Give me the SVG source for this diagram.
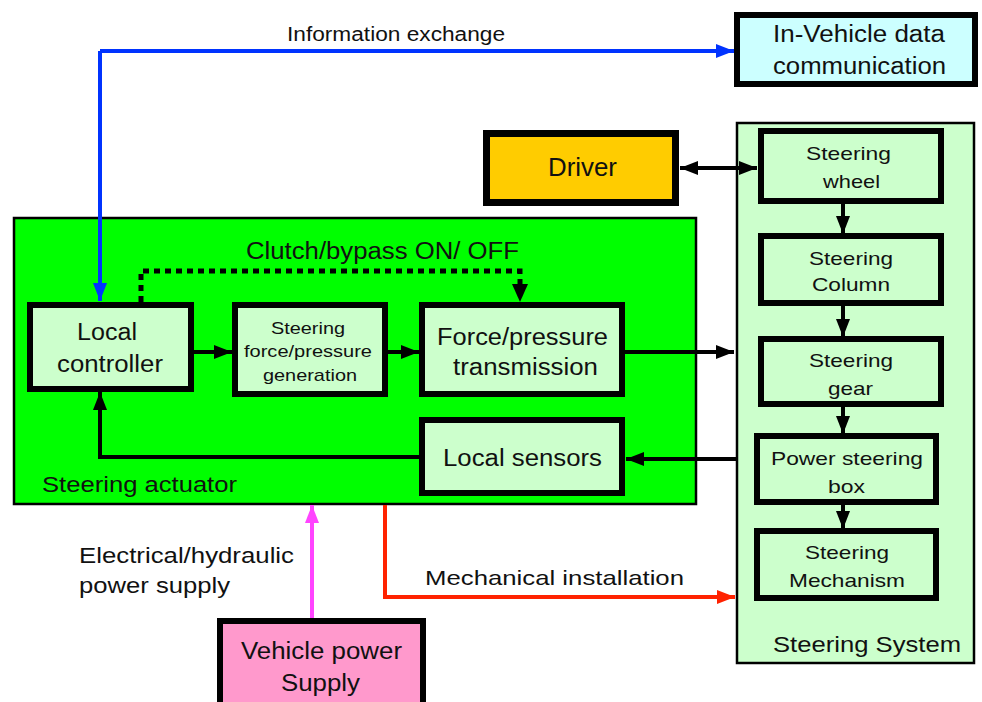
<svg xmlns="http://www.w3.org/2000/svg" width="982" height="702" viewBox="0 0 982 702">
<defs>
<style>
text{font-family:"Liberation Sans",Arial,sans-serif;fill:#111;text-anchor:middle}
.lbl{text-anchor:start}
.box{stroke:#000;stroke-width:6}
.inner{fill:#CCFFCC}
.ln{fill:none;stroke-width:4}
.blk{stroke:#000}
</style>
<marker id="ak" markerUnits="userSpaceOnUse" markerWidth="20" markerHeight="20" viewBox="0 0 20 20" refX="18" refY="10" orient="auto-start-reverse"><path d="M0,3 L18,10 L0,17 Z" fill="#000"/></marker>
<marker id="ab" markerUnits="userSpaceOnUse" markerWidth="20" markerHeight="20" viewBox="0 0 20 20" refX="18" refY="10" orient="auto"><path d="M0,3 L18,10 L0,17 Z" fill="#0033FF"/></marker>
<marker id="ar" markerUnits="userSpaceOnUse" markerWidth="20" markerHeight="20" viewBox="0 0 20 20" refX="18" refY="10" orient="auto"><path d="M0,3 L18,10 L0,17 Z" fill="#FF2200"/></marker>
<marker id="ap" markerUnits="userSpaceOnUse" markerWidth="20" markerHeight="20" viewBox="0 0 20 20" refX="18" refY="10" orient="auto"><path d="M0,3 L18,10 L0,17 Z" fill="#FF44FF"/></marker>
</defs>
<rect width="982" height="702" fill="#fff"/>

<g id="steering-actuator">
<rect x="14" y="218" width="682" height="286" fill="#00FF00" stroke="#000" stroke-width="2.5"/>
<text class="lbl" x="42" y="492" font-size="22" textLength="195" lengthAdjust="spacingAndGlyphs">Steering actuator</text>
</g>
<g id="steering-system">
<rect x="737" y="123" width="237" height="540" fill="#CCFFCC" stroke="#000" stroke-width="2.5"/>
<text x="867" y="652" font-size="22" textLength="188" lengthAdjust="spacingAndGlyphs">Steering System</text>
</g>

<g id="connectors">
<path class="ln" d="M100,51 H734" stroke="#0033FF" marker-end="url(#ab)"/>
<path class="ln" d="M100,51 V301" stroke="#0033FF" marker-end="url(#ab)"/>
<path class="ln blk" d="M680,168 H757" marker-start="url(#ak)" marker-end="url(#ak)"/>
<path class="ln blk" d="M843,204 V234" marker-end="url(#ak)"/>
<path class="ln blk" d="M843,306 V337" marker-end="url(#ak)"/>
<path class="ln blk" d="M843,407 V434" marker-end="url(#ak)"/>
<path class="ln blk" d="M843,505 V529" marker-end="url(#ak)"/>
<path class="ln blk" d="M194,352 H232" marker-end="url(#ak)"/>
<path class="ln blk" d="M388,352 H419" marker-end="url(#ak)"/>
<path class="ln blk" d="M625,352 H734" marker-end="url(#ak)"/>
<path class="ln blk" d="M737,459 H626" marker-end="url(#ak)"/>
<path class="ln blk" d="M419,457 H100 V392" marker-end="url(#ak)"/>
<path fill="none" stroke="#000" stroke-width="5" stroke-dasharray="6,5" d="M141,302 V271 H520 V286"/>
<path d="M512,284 L528,284 L520,302 Z" fill="#000"/>
<path class="ln" d="M312,620 V505" stroke="#FF44FF" marker-end="url(#ap)"/>
<path class="ln" d="M385,505 V597 H735" stroke="#FF2200" marker-end="url(#ar)"/>
<text x="396" y="41" font-size="20" textLength="218" lengthAdjust="spacingAndGlyphs">Information exchange</text>
<text x="382.5" y="259" font-size="23" textLength="273" lengthAdjust="spacingAndGlyphs">Clutch/bypass ON/ OFF</text>
<text class="lbl" x="79" y="563" font-size="22" textLength="215" lengthAdjust="spacingAndGlyphs">Electrical/hydraulic</text>
<text class="lbl" x="79" y="593" font-size="22" textLength="151" lengthAdjust="spacingAndGlyphs">power supply</text>
<text class="lbl" x="425" y="585" font-size="21" textLength="259" lengthAdjust="spacingAndGlyphs">Mechanical installation</text>
</g>

<g id="in-vehicle">
<rect class="box" x="737" y="15" width="238" height="69" fill="#CCFFFF"/>
<text x="859" y="42" font-size="23" textLength="172" lengthAdjust="spacingAndGlyphs">In-Vehicle data</text>
<text x="859.5" y="74" font-size="23" textLength="173" lengthAdjust="spacingAndGlyphs">communication</text>
</g>
<g id="driver">
<rect x="486.5" y="133.5" width="189" height="69" fill="#FFCC00" stroke="#000" stroke-width="7"/>
<text x="582.5" y="176" font-size="25" textLength="69" lengthAdjust="spacingAndGlyphs">Driver</text>
</g>
<g id="steering-wheel">
<rect class="box inner" x="761" y="131" width="180" height="70"/>
<text x="848.5" y="160" font-size="19" textLength="85" lengthAdjust="spacingAndGlyphs">Steering</text>
<text x="851.5" y="188" font-size="19" textLength="57" lengthAdjust="spacingAndGlyphs">wheel</text>
</g>
<g id="steering-column">
<rect class="box inner" x="761" y="236" width="180" height="67"/>
<text x="851" y="265" font-size="19" textLength="84" lengthAdjust="spacingAndGlyphs">Steering</text>
<text x="851" y="291" font-size="19" textLength="78" lengthAdjust="spacingAndGlyphs">Column</text>
</g>
<g id="steering-gear">
<rect class="box inner" x="761" y="339" width="180" height="65"/>
<text x="851" y="367" font-size="19" textLength="84" lengthAdjust="spacingAndGlyphs">Steering</text>
<text x="850.5" y="395" font-size="19" textLength="45" lengthAdjust="spacingAndGlyphs">gear</text>
</g>
<g id="power-steering-box">
<rect class="box inner" x="757" y="436" width="179" height="66"/>
<text x="847" y="465" font-size="19" textLength="152" lengthAdjust="spacingAndGlyphs">Power steering</text>
<text x="846.5" y="493" font-size="19" textLength="37" lengthAdjust="spacingAndGlyphs">box</text>
</g>
<g id="steering-mechanism">
<rect class="box inner" x="757" y="531" width="179" height="67"/>
<text x="847" y="559" font-size="19" textLength="84" lengthAdjust="spacingAndGlyphs">Steering</text>
<text x="847" y="587" font-size="19" textLength="116" lengthAdjust="spacingAndGlyphs">Mechanism</text>
</g>
<g id="local-controller">
<rect class="box inner" x="30" y="305" width="161" height="84"/>
<text x="107" y="340" font-size="23" textLength="60" lengthAdjust="spacingAndGlyphs">Local</text>
<text x="110" y="372" font-size="23" textLength="106" lengthAdjust="spacingAndGlyphs">controller</text>
</g>
<g id="force-generation">
<rect class="box inner" x="235" y="305" width="150" height="89"/>
<text x="308" y="334" font-size="17" textLength="74" lengthAdjust="spacingAndGlyphs">Steering</text>
<text x="308" y="357" font-size="17" textLength="128" lengthAdjust="spacingAndGlyphs">force/pressure</text>
<text x="310" y="381" font-size="17" textLength="94" lengthAdjust="spacingAndGlyphs">generation</text>
</g>
<g id="force-transmission">
<rect class="box inner" x="422" y="305" width="200" height="89"/>
<text x="522.5" y="345" font-size="23" textLength="171" lengthAdjust="spacingAndGlyphs">Force/pressure</text>
<text x="525.5" y="375" font-size="23" textLength="145" lengthAdjust="spacingAndGlyphs">transmission</text>
</g>
<g id="local-sensors">
<rect class="box inner" x="422" y="420" width="200" height="73"/>
<text x="522.5" y="466" font-size="23" textLength="159" lengthAdjust="spacingAndGlyphs">Local sensors</text>
</g>
<g id="vehicle-power">
<rect class="box" x="220" y="621" width="203" height="90" fill="#FF99CC"/>
<text x="321.5" y="659" font-size="23" textLength="161" lengthAdjust="spacingAndGlyphs">Vehicle power</text>
<text x="320.5" y="691" font-size="23" textLength="79" lengthAdjust="spacingAndGlyphs">Supply</text>
</g>
</svg>
